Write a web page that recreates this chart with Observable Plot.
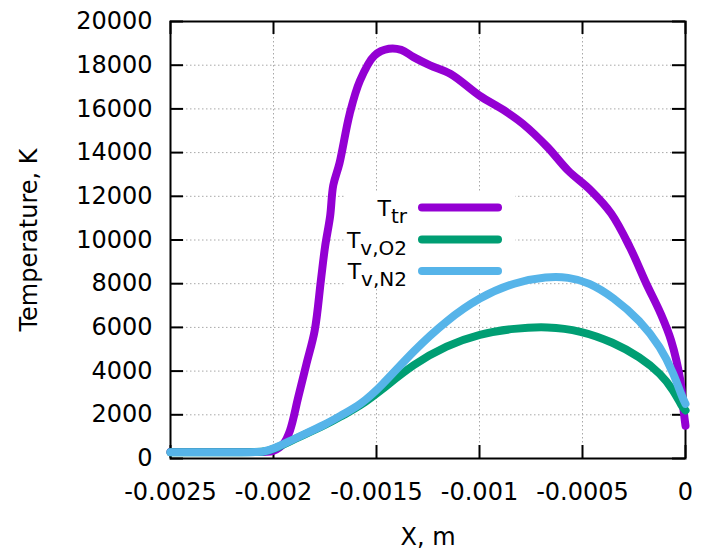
<!DOCTYPE html>
<html>
<head>
<meta charset="utf-8">
<script src="https://cdn.jsdelivr.net/npm/d3@7"></script>
<script src="https://cdn.jsdelivr.net/npm/@observablehq/plot@0.6"></script>
<style>
  html, body { margin: 0; padding: 0; background: #fff; }
  #chart { width: 702px; height: 550px; }
</style>
</head>
<body>
<div id="chart"></div>
<script>
// ---- data ----
const xTicks = [-0.0025, -0.002, -0.0015, -0.001, -0.0005, 0];
const yTicks = [0, 2000, 4000, 6000, 8000, 10000, 12000, 14000, 16000, 18000, 20000];

const ttrX = [-0.0025, -0.0022, -0.00205, -0.002, -0.00195, -0.00192, -0.00188, -0.00184, -0.0018, -0.00177, -0.00175, -0.001725, -0.00171, -0.00168, -0.00163, -0.00158, -0.00151, -0.00144, -0.00138, -0.00132, -0.00124, -0.00114, -0.001, -0.00088, -0.00079, -0.00067, -0.00057, -0.00046, -0.00036, -0.00027, -0.00019, -0.00012, -0.00007, -0.000025, -0.000008, 0];
const ttrT = [300, 300, 300, 350, 700, 1280, 2800, 4330, 5860, 8150, 9670, 11100, 12500, 13500, 15780, 17300, 18440, 18750, 18700, 18370, 17990, 17600, 16610, 15930, 15320, 14250, 13180, 12270, 11200, 9670, 8000, 6620, 5400, 3570, 2100, 1500];

const o2X = [-0.0025, -0.0021, -0.00205, -0.002, -0.0019, -0.00174, -0.00166, -0.00158, -0.00148, -0.00132, -0.00116, -0.001, -0.00083, -0.00067, -0.00051, -0.00035, -0.00022, -0.00012, -0.000057, -0.000016, 0];
const o2T = [290, 290, 300, 420, 880, 1560, 2000, 2400, 3100, 4330, 5170, 5710, 5960, 6040, 5860, 5320, 4640, 3880, 3110, 2350, 2200];

const n2X = [-0.0025, -0.0021, -0.00205, -0.002, -0.0019, -0.00174, -0.00166, -0.00158, -0.00148, -0.00132, -0.00116, -0.001, -0.00083, -0.00067, -0.00057, -0.00047, -0.00035, -0.00022, -0.00012, -0.000057, -0.000016, 0];
const n2T = [290, 290, 300, 440, 900, 1590, 2045, 2450, 3270, 4940, 6320, 7380, 8070, 8330, 8300, 8070, 7380, 6320, 5090, 3880, 2800, 2500];

const seriesNames = ["Ttr", "Tv,O2", "Tv,N2"];
const seriesColors = ["#9400D3", "#009E73", "#56B4E9"];
const seriesCurves = ["catmull-rom", "basis", "basis"];
const legendMain = ["T", "T", "T"];
const legendSub = ["tr", "v,O2", "v,N2"];

const toRows = (xs, ts) => xs.map((x, i) => ({x, t: ts[i]}));
const series = [toRows(ttrX, ttrT), toRows(o2X, o2T), toRows(n2X, n2T)];

// ---- layout ----
const W = 702, H = 550;
const mL = 170, mR = 17, mT = 21, mB = 92;
const frameW = W - mL - mR, frameH = H - mT - mB;
const tickLen = 13;
const font = "DejaVu Sans";

const fmtX = d => d === 0 ? "0" : String(d);
const fmtY = d => String(d);

const gridStyle = {stroke: "#a8a8a8", strokeOpacity: 1, strokeWidth: 1, strokeDasharray: "1.5,2.5"};

const plot = Plot.plot({
  width: W,
  height: H,
  marginLeft: mL,
  marginRight: mR,
  marginTop: mT,
  marginBottom: mB,
  style: {fontFamily: font, fontSize: "24px", color: "black", background: "white", overflow: "visible"},
  x: {domain: [-0.0025, 0]},
  y: {domain: [0, 20000]},
  marks: [
    Plot.gridX({ticks: xTicks, ...gridStyle}),
    Plot.gridY({ticks: yTicks, ...gridStyle}),
    Plot.frame({stroke: "black", strokeWidth: 2}),
    Plot.tickY(yTicks, {y: d => d, insetRight: frameW - tickLen, stroke: "black", strokeWidth: 2}),
    Plot.tickY(yTicks, {y: d => d, insetLeft: frameW - tickLen, stroke: "black", strokeWidth: 2}),
    Plot.tickX(xTicks, {x: d => d, insetTop: frameH - tickLen, stroke: "black", strokeWidth: 2}),
    Plot.tickX(xTicks, {x: d => d, insetBottom: frameH - tickLen, stroke: "black", strokeWidth: 2}),
    Plot.axisX({ticks: xTicks, tickSize: 0, tickPadding: 24, tickFormat: fmtX, label: null, fontSize: 24}),
    Plot.axisY({ticks: yTicks, tickSize: 0, tickPadding: 18, tickFormat: fmtY, label: null, fontSize: 24}),
    Plot.text(["X, m"], {frameAnchor: "bottom", text: d => d, dy: 79, lineAnchor: "middle", fontSize: 24, fill: "black"}),
    Plot.text(["Temperature, K"], {frameAnchor: "left", text: d => d, dx: -141, rotate: -90, lineAnchor: "middle", textAnchor: "middle", fontSize: 24, fill: "black"}),
    ...series.map((rows, i) => Plot.line(rows, {
      x: "x", y: "t", stroke: seriesColors[i], strokeWidth: 8,
      strokeLinecap: "round", strokeLinejoin: "round", curve: seriesCurves[i]
    }))
  ]
});

document.getElementById("chart").appendChild(plot);

// ---- legend (opaque key box, like gnuplot) ----
const svg = d3.select(plot);
const box = {x: 345, y: 192, w: 170, h: 96};
svg.insert("rect", "[aria-label=frame]")
  .attr("x", box.x).attr("y", box.y).attr("width", box.w).attr("height", box.h)
  .attr("fill", "white");

const key = svg.append("g").attr("class", "key");
const rowY = [207.5, 239.5, 271];
seriesNames.forEach((name, i) => {
  key.append("line")
    .attr("x1", 422).attr("x2", 498)
    .attr("y1", rowY[i]).attr("y2", rowY[i])
    .attr("stroke", seriesColors[i]).attr("stroke-width", 8)
    .attr("stroke-linecap", "round");
  const t = key.append("text")
    .attr("x", 407).attr("y", rowY[i] + 8)
    .attr("text-anchor", "end")
    .attr("font-family", font)
    .attr("font-size", 22)
    .attr("fill", "black");
  t.append("tspan").text(legendMain[i]);
  t.append("tspan").attr("font-size", 20).attr("dy", 7).text(legendSub[i]);
});
</script>
</body>
</html>
